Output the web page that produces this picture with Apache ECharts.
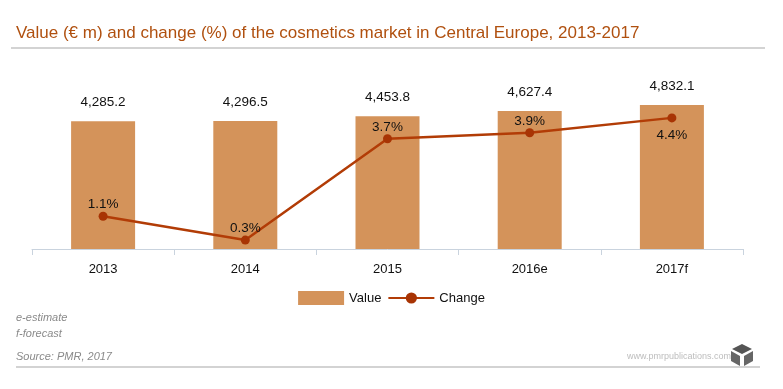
<!DOCTYPE html>
<html><head><meta charset="utf-8">
<script src="https://cdn.jsdelivr.net/npm/echarts@6/dist/echarts.min.js"></script>
<style>html,body{margin:0;padding:0;background:#fff}#c{width:783px;height:389px}</style>
</head><body><div id="c"></div>
<script>
const categories = ['2013', '2014', '2015', '2016e', '2017f'];
const valueData = [4285.2, 4296.5, 4453.8, 4627.4, 4832.1];
const changeData = [1.1, 0.3, 3.7, 3.9, 4.4];
const changeLabelPos = ['top', 'top', 'top', 'top', 'bottom'];

const chart = echarts.init(document.getElementById('c'), null, {renderer: 'canvas'});
const font = 'Helvetica, "Liberation Sans", Arial, sans-serif';
chart.setOption({
  animation: false,
  textStyle: {fontFamily: font},
  title: {
    text: 'Value (€ m) and change (%) of the cosmetics market in Central Europe, 2013-2017',
    left: 11, top: 20,
    textStyle: {color: '#b0500f', fontSize: 17, fontWeight: 'normal', fontFamily: font}
  },
  legend: {
    bottom: 79, left: 'center',
    itemGap: 6,
    textStyle: {fontSize: 13, color: '#111', fontFamily: font},
    data: [
      {name: 'Value', icon: 'rect', itemStyle: {color: '#d4935a'}},
      {name: 'Change'}
    ],
    itemWidth: 46, itemHeight: 14
  },
  grid: {left: 32, right: 40, top: 100, bottom: 140},
  xAxis: {
    type: 'category', data: categories,
    axisLine: {lineStyle: {color: '#c9d3de', width: 1}},
    axisTick: {show: true, length: 6, lineStyle: {color: '#c9d3de'}},
    axisLabel: {color: '#111', fontSize: 13, margin: 14, fontFamily: font}
  },
  yAxis: [
    {type: 'value', min: 0, max: 5000, show: false, splitLine: {show: false}},
    {type: 'value', min: 0, max: 5, show: false, splitLine: {show: false}}
  ],
  series: [
    {
      name: 'Value', type: 'bar', data: valueData, barWidth: 64,
      itemStyle: {color: '#d4935a'},
      label: {
        show: true, position: 'top', distance: 12, color: '#111', fontSize: 13.5, fontFamily: font,
        formatter: p => p.value.toLocaleString('en-US', {minimumFractionDigits: 1, maximumFractionDigits: 1})
      }
    },
    {
      name: 'Change', type: 'line', yAxisIndex: 1,
      data: changeData.map((v, i) => ({value: v, label: {position: changeLabelPos[i], distance: changeLabelPos[i] === 'top' ? 0 : 6}})),
      symbol: 'circle', symbolSize: 9,
      lineStyle: {color: '#b23c06', width: 2.5},
      itemStyle: {color: '#a83404'},
      label: {
        show: true, color: '#111', fontSize: 13.5, fontFamily: font,
        formatter: p => p.value.toFixed(1) + '%'
      }
    }
  ],
  graphic: [
    {type: 'line', shape: {x1: 11, y1: 48, x2: 765, y2: 48}, style: {stroke: '#c4c4c4', lineWidth: 1.5}},
    {type: 'text', left: 16, top: 312, style: {text: 'e-estimate', font: 'italic 11px ' + font, fill: '#8a8a8a'}},
    {type: 'text', left: 16, top: 328, style: {text: 'f-forecast', font: 'italic 11px ' + font, fill: '#8a8a8a'}},
    {type: 'text', left: 16, top: 351, style: {text: 'Source: PMR, 2017', font: 'italic 11px ' + font, fill: '#8a8a8a'}},
    {type: 'line', shape: {x1: 16, y1: 367, x2: 760, y2: 367}, style: {stroke: '#c4c4c4', lineWidth: 1.5}},
    {type: 'text', left: 627, top: 352, style: {text: 'www.pmrpublications.com', font: '9px ' + font, fill: '#bdbdbd'}},
    {type: 'polygon', shape: {points: [[742, 344], [752, 349], [742, 354], [732, 349]]}, style: {fill: '#555'}},
    {type: 'polygon', shape: {points: [[731, 351], [740, 356], [740, 366], [731, 361]]}, style: {fill: '#666'}},
    {type: 'polygon', shape: {points: [[753, 351], [744, 356], [744, 366], [753, 361]]}, style: {fill: '#666'}}
  ]
});
</script></body></html>
